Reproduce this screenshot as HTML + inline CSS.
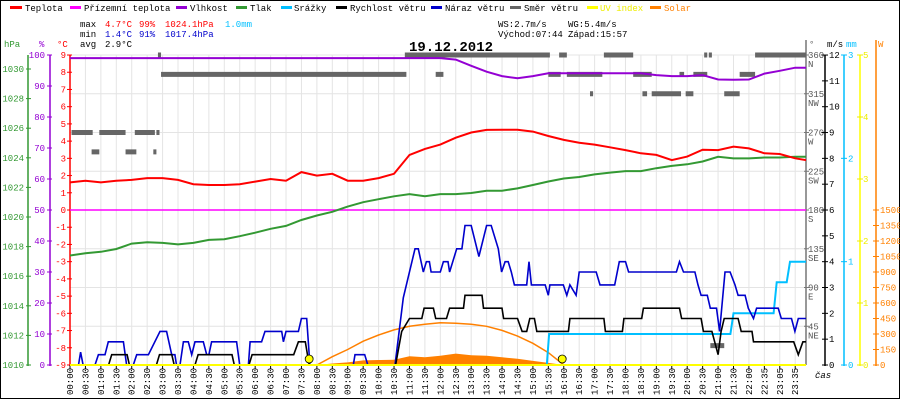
<!DOCTYPE html>
<html><head><meta charset="utf-8"><style>
html,body{margin:0;padding:0;background:#fff;}
svg{display:block;font-family:"Liberation Mono",monospace;}
</style></head><body>
<svg id="chart" width="900" height="400" viewBox="0 0 900 400" xmlns="http://www.w3.org/2000/svg">
<rect x="0.5" y="0.5" width="899" height="398" fill="#fff" stroke="#000"/>
<g id="grid"></g>
<g id="legend" font-size="9">
 <rect x="10" y="6" width="12" height="3" fill="#f00"/><text x="25" y="11">Teplota</text>
 <rect x="70" y="6" width="11" height="3" fill="#f0f"/><text x="84" y="11">Přízemní teplota</text>
 <rect x="176" y="6" width="11" height="3" fill="#9400d3"/><text x="190" y="11">Vlhkost</text>
 <rect x="236" y="6" width="11" height="3" fill="#339933"/><text x="250" y="11">Tlak</text>
 <rect x="281" y="6" width="11" height="3" fill="#00bfff"/><text x="294" y="11">Srážky</text>
 <rect x="336" y="6" width="11" height="3" fill="#000"/><text x="350" y="11">Rychlost větru</text>
 <rect x="431" y="6" width="11" height="3" fill="#0000cc"/><text x="445" y="11">Náraz větru</text>
 <rect x="510" y="6" width="11" height="3" fill="#666"/><text x="524" y="11">Směr větru</text>
 <rect x="587" y="6" width="11" height="3" fill="#ff0"/><text x="600" y="11" fill="#ee0">UV index</text>
 <rect x="650" y="6" width="11" height="3" fill="#ff8000"/><text x="664" y="11" fill="#ff8000">Solar</text>
</g>
<g id="stats" font-size="9">
 <text x="80" y="27">max</text><text x="105" y="27" fill="#f00">4.7°C</text><text x="139" y="27" fill="#f00">99%</text><text x="165" y="27" fill="#f00">1024.1hPa</text><text x="225" y="27" fill="#00bfff">1.0mm</text>
 <text x="80" y="37">min</text><text x="105" y="37" fill="#0000cc">1.4°C</text><text x="139" y="37" fill="#0000cc">91%</text><text x="165" y="37" fill="#0000cc">1017.4hPa</text>
 <text x="80" y="47">avg</text><text x="105" y="47">2.9°C</text>
 <text x="498" y="27">WS:2.7m/s</text><text x="568" y="27">WG:5.4m/s</text>
 <text x="498" y="37">Východ:07:44</text><text x="568" y="37">Západ:15:57</text>
</g>
<text x="451" y="51" text-anchor="middle" font-size="14" font-weight="bold">19.12.2012</text>
<g id="axes"></g>
<defs><clipPath id="plotclip"><rect x="70" y="40" width="736" height="330"/></clipPath></defs>
<g id="plot" clip-path="url(#plotclip)"></g>
</svg>
<script>
const timeLabels = ["00:00","00:30","01:00","01:30","02:00","02:30","03:00","03:30","04:00","04:30","05:00","05:30","06:00","06:30","07:00","07:30","08:00","08:30","09:00","09:30","10:00","10:30","11:00","11:30","12:00","12:30","13:00","13:30","14:00","14:30","15:00","15:30","16:00","16:30","17:00","17:30","18:00","18:30","19:00","19:30","20:00","20:30","21:00","21:30","22:00","22:35","23:05","23:35"];
const temperature = [1.6,1.7,1.6,1.7,1.75,1.85,1.85,1.75,1.5,1.45,1.45,1.5,1.65,1.8,1.7,2.2,2.0,2.1,1.7,1.7,1.85,2.1,3.2,3.55,3.8,4.2,4.5,4.65,4.66,4.66,4.55,4.3,4.07,3.91,3.8,3.64,3.48,3.29,3.2,2.9,3.1,3.5,3.48,3.68,3.58,3.29,3.25,3.0,2.85];
const groundTemp = [0,0];
const pressure = [1017.4,1017.55,1017.65,1017.84,1018.2,1018.3,1018.25,1018.15,1018.25,1018.45,1018.5,1018.7,1018.94,1019.2,1019.4,1019.8,1020.1,1020.35,1020.7,1021.0,1021.2,1021.4,1021.55,1021.4,1021.55,1021.55,1021.62,1021.78,1021.78,1021.93,1022.16,1022.4,1022.6,1022.7,1022.88,1023.0,1023.1,1023.1,1023.3,1023.45,1023.56,1023.75,1024.07,1023.96,1023.96,1024.02,1024.02,1024.07,1024.07];
const humidity = [99,99,99,99,99,99,99,99,99,99,99,99,99,99,99,99,99,99,99,99,99,99,99,99,99,98.5,96.5,94.6,93.2,92.5,93.2,94.1,94.1,94.1,94.1,94.1,94.1,94.1,93.5,93.2,93.2,93.5,92.1,92,92.1,94,94.9,95.9,95.9];
const solarMax = [0,0,0,0,0,0,0,0,0,0,0,0,0,0,0,0,0,80,150,230,290,340,375,395,409,405,395,375,335,280,210,120,0,0,0,0,0,0,0,0,0,0,0,0,0,0,0,0,0];
const solar = [0,0,0,0,0,0,0,0,0,0,0,0,0,0,0,0,0,15,25,45,48,50,85,75,90,110,95,90,75,60,40,20,0,0,0,0,0,0,0,0,0,0,0,0,0,0,0,0,0];
const windT = [0,2.5,2.7,3.7,3.85,5.6,5.8,6.6,6.75,8.1,8.3,10.5,10.65,11.6,11.8,14.5,14.8,15.25,15.5,21.1,21.5,22.0,22.8,22.95,23.55,23.7,24.4,24.6,25.5,25.6,26.7,26.8,28.0,28.1,29.0,29.3,29.6,29.8,30.1,30.25,32.3,32.4,34.6,34.7,35.8,35.9,37.05,37.16,39.5,39.64,40.9,41.05,41.6,42.0,42.2,42.4,43.3,43.5,44.2,44.3,46.9,47.2,47.5,48];
const windV = [0,0,0.4,0.4,0,0,0.4,0.4,0,0,0.4,0.4,0,0,0.4,0.4,0.9,0.9,0,0,1.3,1.8,1.8,2.2,2.2,1.8,1.8,2.2,2.2,2.7,2.7,2.2,2.2,1.8,1.8,1.3,1.3,1.8,1.8,1.3,1.3,1.8,1.8,1.3,1.3,1.8,1.8,2.2,2.2,1.8,1.8,1.3,1.3,0.4,1.3,1.8,1.8,1.3,1.3,0.9,0.9,0.4,0.9,0.9];
const gustT = [0,0.55,0.69,0.85,1.62,1.84,2.27,2.48,3.46,3.67,4.1,4.32,4.86,5.08,5.83,6.26,6.59,6.8,6.9,7.13,7.35,7.67,7.89,8.1,8.64,8.86,9.0,9.18,10.8,11.0,11.56,11.67,12.42,12.64,13.72,13.83,14.0,14.8,15.0,15.34,15.55,18.36,18.47,19.1,19.3,21.06,21.6,22.36,22.57,22.9,23.1,23.29,23.4,24.0,24.2,24.5,24.6,25.06,25.4,25.6,26.0,26.5,27.0,27.3,27.76,27.97,28.2,28.4,28.6,28.8,29.6,29.75,29.9,30.8,31.0,31.1,31.97,32.2,32.4,32.8,33.0,34.1,34.35,35.3,35.6,36.0,36.2,39.3,39.5,39.76,40.5,40.7,40.9,41.3,41.5,41.9,42.1,42.45,42.78,43.1,43.3,43.75,43.96,44.3,44.5,45.9,46.1,46.76,46.98,47.2,48];
const gustV = [0,0,0.5,0,0,0.4,0.4,0.9,0.9,0,0,0.4,0.4,0.4,1.3,1.3,0.4,0.4,0,0,0.9,0.9,0.4,0.9,0.9,0.4,0.4,0.9,0.9,0,0,0.9,0.9,1.3,1.3,0.9,1.3,1.3,1.8,1.8,0,0,0.4,0.4,0,0,2.6,4.5,4.5,3.6,4.0,4.0,3.6,3.6,4.0,4.0,3.6,4.5,4.5,5.4,5.4,4.2,5.4,5.4,4.5,3.6,4.0,4.0,3.6,3.1,3.1,4.0,3.1,3.1,2.7,3.1,3.1,2.7,3.1,2.7,3.6,3.6,3.1,3.1,4.0,4.0,3.6,3.6,4.0,3.6,3.6,3.1,2.7,2.7,2.2,2.2,1.3,3.6,3.6,3.1,2.7,2.7,2.2,1.8,2.2,2.2,1.8,1.8,1.3,1.8,1.8];
const rainT = [0,30.9,31.05,42.8,43.0,45.6,45.8,46.45,46.66,48];
const rainV = [0,0,0.3,0.3,0.5,0.5,0.8,0.8,1.0,1.0];
const dirStart = [0.1,1.9,4.2,5.6,1.4,3.6,5.4,5.7,21.7,5.9,23.7,23.3,31.7,34.6,41.1,41.4,44.4,31.0,32.2,36.5,39.5,40.4,43.4,33.7,37.1,37.7,39.9,42.4,41.5];
const dirEnd = [1.47,3.6,5.5,5.8,1.9,4.3,5.6,5.9,23.8,21.8,24.2,31.1,32.2,36.5,41.3,41.6,47.8,31.8,34.5,37.7,39.8,41.3,44.4,33.9,37.4,39.6,40.4,43.4,42.4];
const dirDeg = [270,270,270,270,247.5,247.5,247.5,360,360,337.5,337.5,360,360,360,360,360,360,337.5,337.5,337.5,337.5,337.5,337.5,315,315,315,315,315,22.5];
const sunEvents = [15.5,31.9];

const NS="http://www.w3.org/2000/svg";
const X0=70, DX=15.43, YB=365, YT=55;
const xs = i => X0 + i*DX;
const yT = t => 210 - t*17.22;
const yH = h => YB - h*3.1;
const yP = p => YB - (p-1010)*14.8;
const yW = v => YB - v*25.83;
const yR = m => YB - m*103.33;
const yD = d => YB - d*0.8611;
const yS = w => YB - w*0.10333;
const yUV = u => YB - u*62;
function el(tag, attrs, parent, txt){const e=document.createElementNS(NS,tag);for(const k in attrs)e.setAttribute(k,attrs[k]);if(txt!==undefined)e.textContent=txt;parent.appendChild(e);return e;}
const grid=document.getElementById('grid'), axes=document.getElementById('axes'), plot=document.getElementById('plot');

// grid
timeLabels.forEach((lab,i)=>{const g=el('line',{x1:xs(i),x2:xs(i),y1:YT,y2:YB,stroke:'#e4e4e4'},grid);

});
for(let d=45; d<=360; d+=45){const g=el('line',{x1:X0,x2:806,y1:yD(d),y2:yD(d),stroke:'#e4e4e4'},grid);

}

// left axes
function vaxis(x,color,name){const a=el('line',{x1:x,x2:x,y1:YT,y2:YB+1,stroke:color,'stroke-width':1.5},axes);

}
vaxis(28,'#339933','pressure-axis');vaxis(50,'#9400d3','humidity-axis');vaxis(70,'#f00','temperature-axis');
el('text',{x:4,y:47,fill:'#339933','font-size':9},axes,'hPa');
el('text',{x:39,y:47,fill:'#9400d3','font-size':9},axes,'%');
el('text',{x:57,y:47,fill:'#f00','font-size':9},axes,'°C');
for(let p=1010;p<=1030;p+=2){el('line',{x1:26,x2:31,y1:yP(p),y2:yP(p),stroke:'#339933'},axes);
const t=el('text',{x:24,y:yP(p)+3,fill:'#339933','font-size':9,'text-anchor':'end'},axes,p);

}
for(let h=0;h<=100;h+=10){el('line',{x1:47,x2:52,y1:yH(h),y2:yH(h),stroke:'#9400d3'},axes);
const t=el('text',{x:45,y:yH(h)+3,fill:'#9400d3','font-size':9,'text-anchor':'end'},axes,h);

}
for(let c=-9;c<=9;c++){el('line',{x1:67,x2:72,y1:yT(c),y2:yT(c),stroke:'#f00'},axes);
const t=el('text',{x:66,y:yT(c)+3,fill:'#f00','font-size':9,'text-anchor':'end'},axes,c);

}

// right axes
el('line',{x1:806,x2:806,y1:YT-15,y2:YB,stroke:'#777','stroke-width':1.5},axes);
el('text',{x:809,y:47,fill:'#666','font-size':9},axes,'°');
const dirNames=['','NE','E','SE','S','SW','W','NW','N'];
for(let d=45;d<=360;d+=45){el('line',{x1:804,x2:809,y1:yD(d),y2:yD(d),stroke:'#777'},axes);
const t=el('text',{x:808,y:yD(d)+3,fill:'#555','font-size':9},axes,d);


el('text',{x:808,y:yD(d)+12,fill:'#555','font-size':9},axes,dirNames[d/45]);}
vaxis(825,'#000','wind-speed-axis');
el('text',{x:827,y:47,'font-size':9},axes,'m/s');
for(let v=0;v<=12;v++){el('line',{x1:822,x2:828,y1:yW(v),y2:yW(v),stroke:'#000'},axes);
const t=el('text',{x:829,y:yW(v)+3,'font-size':9},axes,v);

}
vaxis(844,'#00bfff','rain-axis');
el('text',{x:846,y:47,fill:'#00bfff','font-size':9},axes,'mm');
for(let m=0;m<=3;m++){el('line',{x1:841,x2:847,y1:yR(m),y2:yR(m),stroke:'#00bfff'},axes);
const t=el('text',{x:848,y:yR(m)+3,fill:'#00bfff','font-size':9},axes,m);

}
vaxis(860,'#ff0','uv-axis');
for(let u=0;u<=5;u++){el('line',{x1:857,x2:863,y1:yUV(u),y2:yUV(u),stroke:'#ee0'},axes);
const t=el('text',{x:863,y:yUV(u)+3,fill:'#ee0','font-size':9},axes,u);

}
el('line',{x1:876,x2:876,y1:YT-15,y2:YB+1,stroke:'#ff8000','stroke-width':1.5},axes);
el('text',{x:878,y:47,fill:'#ff8000','font-size':9},axes,'W');
for(let w=0;w<=1500;w+=150){el('line',{x1:873,x2:879,y1:yS(w),y2:yS(w),stroke:'#ff8000'},axes);
const t=el('text',{x:880,y:yS(w)+3,fill:'#ff8000','font-size':9},axes,w);

}

// x axis
timeLabels.forEach((lab,i)=>{const x=xs(i);el('line',{x1:x,x2:x,y1:YB,y2:YB+4,stroke:'#000'},axes);
const t=el('text',{x:x+3,y:395,'font-size':9,transform:`rotate(-90 ${x+3} 395)`},axes,lab);

});
el('text',{x:815,y:378,'font-size':9,'font-style':'italic'},axes,'čas');

// series helpers
function linePts(vals,yf){return vals.map((v,i)=>xs(i).toFixed(1)+','+yf(v).toFixed(1)).join(' ');}
function tvPts(ts,vs,yf){return ts.map((t,i)=>xs(t).toFixed(1)+','+yf(vs[i]).toFixed(1)).join(' ');}

// solar area
const sa=el('polygon',{points:xs(0)+','+YB+' '+linePts(solar,yS)+' '+xs(48)+','+YB,fill:'#ff8000'},plot);


const sm=el('polyline',{points:linePts(solarMax,yS),fill:'none',stroke:'#ff8000','stroke-width':1.5},plot);



// direction
dirStart.forEach((s,i)=>{const r=el('rect',{x:xs(s),y:yD(dirDeg[i])-2.5,width:Math.max(2,(dirEnd[i]-s)*DX),height:5,fill:'#666'},plot);

});

const gt=el('polyline',{points:xs(0)+','+yT(groundTemp[0])+' '+xs(48)+','+yT(groundTemp[1]),stroke:'#f0f','stroke-width':1.5,fill:'none'},plot);


const hl=el('polyline',{points:linePts(humidity,yH),fill:'none',stroke:'#9400d3','stroke-width':2},plot);


const pl=el('polyline',{points:linePts(pressure,yP),fill:'none',stroke:'#339933','stroke-width':2},plot);


const tl=el('polyline',{points:linePts(temperature,yT),fill:'none',stroke:'#f00','stroke-width':2},plot);


const rl=el('polyline',{points:tvPts(rainT,rainV,yR),fill:'none',stroke:'#00bfff','stroke-width':2},plot);


const gl=el('polyline',{points:tvPts(gustT,gustV,yW),fill:'none',stroke:'#0000cc','stroke-width':1.6},plot);


const wl=el('polyline',{points:tvPts(windT,windV,yW),fill:'none',stroke:'#000','stroke-width':1.6},plot);


const uv=el('line',{x1:70,x2:806,y1:YB,y2:YB,stroke:'#ff0','stroke-width':2},plot);


sunEvents.forEach(t=>{const c=el('circle',{cx:xs(t),cy:YB-6,r:4,fill:'#ff0',stroke:'#000','stroke-width':0.8},plot);

});
</script>
</body></html>
